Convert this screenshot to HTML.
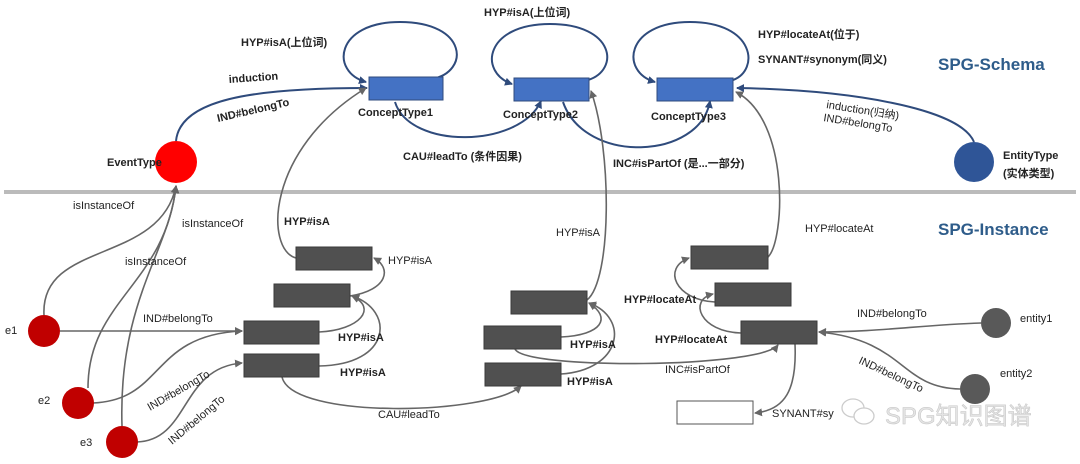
<!DOCTYPE html>
<html><head><meta charset="utf-8"><style>
html,body{margin:0;padding:0;background:#fff;}
svg{display:block;}
text{font-family:"Liberation Sans","Noto Sans CJK SC",sans-serif;font-weight:bold;font-size:11px;fill:#222;}
.n{font-weight:normal;}
</style></head><body>
<svg width="1080" height="464" viewBox="0 0 1080 464" xmlns="http://www.w3.org/2000/svg">
<defs>
<marker id="ab" markerWidth="8" markerHeight="8" refX="7" refY="4" orient="auto" markerUnits="userSpaceOnUse"><path d="M0,0 L8,4 L0,8 Z" fill="#2F4B7C"/></marker>
<marker id="ag" markerWidth="8" markerHeight="8" refX="7" refY="4" orient="auto" markerUnits="userSpaceOnUse"><path d="M0,0 L8,4 L0,8 Z" fill="#666"/></marker>
</defs>
<line x1="4" y1="192" x2="1076" y2="192" stroke="#bbb" stroke-width="4"/>

<g fill="none" stroke="#2F4B7C" stroke-width="2">
<path d="M432 79 C470 72,468 22,400 22 C335 22,330 72,366 82" marker-end="url(#ab)"/>
<path d="M588 80 C620 70,615 24,550 24 C485 24,478 72,512 84" marker-end="url(#ab)"/>
<path d="M733 80 C760 70,755 22,690 22 C625 22,620 72,655 82" marker-end="url(#ab)"/>
<path d="M176 141 C180 100,250 88,367 88" marker-end="url(#ab)"/>
<path d="M395 102 C410 150,520 148,541 101" marker-end="url(#ab)"/>
<path d="M563 102 C585 165,700 160,710 101" marker-end="url(#ab)"/>
<path d="M974 142 C960 108,850 90,737 88" marker-end="url(#ab)"/>
</g>
<g fill="none" stroke="#666" stroke-width="1.6">
<path d="M296 258 C265 250,265 150,366 88" marker-end="url(#ag)"/>
<path d="M587 300 C612 280,612 150,591 91" marker-end="url(#ag)"/>
<path d="M768 257 C785 240,790 120,736 92" marker-end="url(#ag)"/>
<path d="M60 331 L242 331" marker-end="url(#ag)"/>
<path d="M93 403 C165 400,150 335,242 331" marker-end="url(#ag)"/>
<path d="M137 442 C190 440,180 368,242 363" marker-end="url(#ag)"/>
<path d="M44 315 C40 240,160 265,176 186" marker-end="url(#ag)"/>
<path d="M88 388 C88 300,165 285,176 186" marker-end="url(#ag)"/>
<path d="M122 426 C118 300,170 250,176 186" marker-end="url(#ag)"/>
<path d="M319 332 C360 330,378 308,352 296" marker-end="url(#ag)"/>
<path d="M319 366 C392 365,395 310,352 296" marker-end="url(#ag)"/>
<path d="M350 296 C388 290,392 268,374 258" marker-end="url(#ag)"/>
<path d="M282 377 C292 420,490 415,521 386" marker-end="url(#ag)"/>
<path d="M561 337 C602 335,612 318,589 303" marker-end="url(#ag)"/>
<path d="M561 374 C622 370,630 318,589 303" marker-end="url(#ag)"/>
<path d="M515 349 C525 370,760 368,778 345" marker-end="url(#ag)"/>
<path d="M741 333 C700 332,688 300,713 294" marker-end="url(#ag)"/>
<path d="M715 302 C675 300,662 268,689 258" marker-end="url(#ag)"/>
<path d="M795 344 C797 390,785 410,755 413" marker-end="url(#ag)"/>
<path d="M981 323 C920 325,880 332,819 332" marker-end="url(#ag)"/>
<path d="M960 389 C900 388,905 340,819 332" marker-end="url(#ag)"/>
</g>

<g fill="#4472C4" stroke="#2F4B7C" stroke-width="1">
<rect x="369" y="77" width="74" height="23"/>
<rect x="514" y="78" width="75" height="23"/>
<rect x="657" y="78" width="76" height="23"/>
</g>
<circle cx="176" cy="162" r="21" fill="#FF0000"/>
<circle cx="974" cy="162" r="20" fill="#2F5597"/>

<g fill="#505050" stroke="#3a3a3a" stroke-width="1">
<rect x="296" y="247" width="76" height="23"/>
<rect x="274" y="284" width="76" height="23"/>
<rect x="244" y="321" width="75" height="23"/>
<rect x="244" y="354" width="75" height="23"/>
<rect x="511" y="291" width="76" height="23"/>
<rect x="484" y="326" width="77" height="23"/>
<rect x="485" y="363" width="76" height="23"/>
<rect x="691" y="246" width="77" height="23"/>
<rect x="715" y="283" width="76" height="23"/>
<rect x="741" y="321" width="76" height="23"/>
</g>
<rect x="677" y="401" width="76" height="23" fill="#fff" stroke="#555"/>
<g fill="#C00000">
<circle cx="44" cy="331" r="16"/>
<circle cx="78" cy="403" r="16"/>
<circle cx="122" cy="442" r="16"/>
</g>
<circle cx="996" cy="323" r="15" fill="#595959"/>
<circle cx="975" cy="389" r="15" fill="#595959"/>

<text x="241" y="46">HYP#isA(上位词)</text>
<text x="484" y="16">HYP#isA(上位词)</text>
<text x="758" y="38">HYP#locateAt(位于)</text>
<text x="758" y="63">SYNANT#synonym(同义)</text>
<text x="229" y="83" transform="rotate(-4 229 83)">induction</text>
<text x="218" y="122" transform="rotate(-13 218 122)">IND#belongTo</text>
<text x="358" y="116">ConceptType1</text>
<text x="503" y="118">ConceptType2</text>
<text x="651" y="120">ConceptType3</text>
<text x="403" y="160">CAU#leadTo (条件因果)</text>
<text x="613" y="167">INC#isPartOf (是...一部分)</text>
<text class="n" x="826" y="108" transform="rotate(9 826 108)">induction(归纳)</text>
<text class="n" x="823" y="121" transform="rotate(9 823 121)">IND#belongTo</text>
<text x="107" y="166">EventType</text>
<text x="1003" y="159">EntityType</text>
<text x="1003" y="177">(实体类型)</text>
<text x="938" y="70" style="font-size:17px;fill:#2E5C8A;">SPG-Schema</text>
<text x="938" y="235" style="font-size:17px;fill:#2E5C8A;">SPG-Instance</text>

<text x="284" y="225">HYP#isA</text>
<text class="n" x="73" y="209">isInstanceOf</text>
<text class="n" x="182" y="227">isInstanceOf</text>
<text class="n" x="125" y="265">isInstanceOf</text>
<text class="n" x="143" y="322">IND#belongTo</text>
<text class="n" x="388" y="264">HYP#isA</text>
<text x="338" y="341">HYP#isA</text>
<text x="340" y="376">HYP#isA</text>
<text class="n" x="150" y="411" transform="rotate(-30 150 411)">IND#belongTo</text>
<text class="n" x="172" y="445" transform="rotate(-40 172 445)">IND#belongTo</text>
<text class="n" x="378" y="418">CAU#leadTo</text>
<text class="n" x="5" y="334">e1</text>
<text class="n" x="38" y="404">e2</text>
<text class="n" x="80" y="446">e3</text>
<text class="n" x="556" y="236">HYP#isA</text>
<text x="570" y="348">HYP#isA</text>
<text x="567" y="385">HYP#isA</text>
<text class="n" x="805" y="232">HYP#locateAt</text>
<text x="624" y="303">HYP#locateAt</text>
<text x="655" y="343">HYP#locateAt</text>
<text class="n" x="665" y="373">INC#isPartOf</text>
<text class="n" x="857" y="317">IND#belongTo</text>
<text class="n" x="858" y="363" transform="rotate(25 858 363)">IND#belongTo</text>
<text class="n" x="772" y="417">SYNANT#sy</text>
<text class="n" x="1020" y="322">entity1</text>
<text class="n" x="1000" y="377">entity2</text>

<g fill="none" stroke="#ccc" stroke-width="1.3">
<ellipse cx="853" cy="408" rx="11" ry="9"/>
<ellipse cx="864" cy="416" rx="10" ry="8" fill="#fff"/>
</g>
<text class="n" x="885" y="424" style="font-size:24px;fill:#e4e4e4;stroke:#c4c4c4;stroke-width:0.5;">SPG知识图谱</text>
</svg>
</body></html>
